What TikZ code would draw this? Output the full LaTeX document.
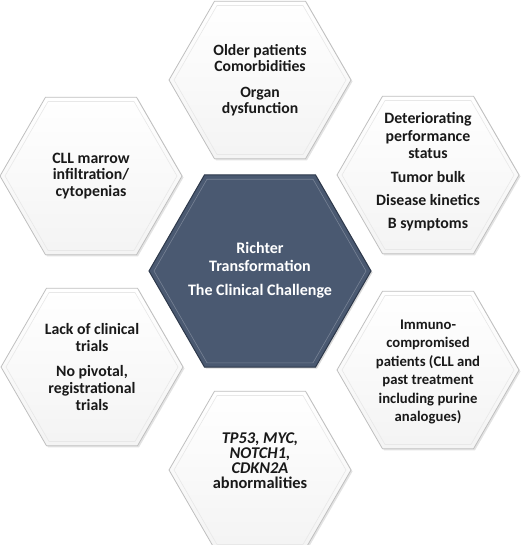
\documentclass[tikz,border=0pt]{standalone}
\usepackage{fontspec}
\setmainfont{Carlito}
\usetikzlibrary{shapes.geometric,shadows}
\definecolor{slate}{RGB}{74,89,113}
\definecolor{slateedge}{RGB}{45,56,74}
\begin{document}
\begin{tikzpicture}[x=1pt,y=-1pt,
  outerhex/.style={regular polygon, regular polygon sides=6, minimum size=182pt, inner sep=0pt,
    draw=gray!50, line width=0.8pt, top color=white, bottom color=gray!9,
    drop shadow={shadow xshift=1.5pt, shadow yshift=-1.5pt, opacity=0.22}},
  bevelhex/.style={regular polygon, regular polygon sides=6, minimum size=172pt, inner sep=0pt,
    draw=gray!18, line width=0.6pt},
  centerhex/.style={regular polygon, regular polygon sides=6, minimum size=222pt, inner sep=0pt,
    fill=slate, draw=slateedge, line width=1pt,
    drop shadow={shadow xshift=1.5pt, shadow yshift=-1.5pt, opacity=0.3}},
  centerbevel/.style={regular polygon, regular polygon sides=6, minimum size=212pt, inner sep=0pt,
    draw=slate!75!white, line width=0.6pt},
  txt/.style={align=center, font=\fontsize{15.8}{16.5}\selectfont\bfseries, text=black!90},
  ctxt/.style={align=center, font=\fontsize{16}{18.5}\selectfont\bfseries, text=white}]
\useasboundingbox (0,0) rectangle (520,545);

% hexagons
\node[outerhex] (htop) at (260,80) {};
\node[bevelhex] (btop) at (260,80) {};
\node[outerhex] (hul) at (91,176) {};
\node[bevelhex] (bul) at (91,176) {};
\node[outerhex] (hur) at (428,175) {};
\node[bevelhex] (bur) at (428,175) {};
\node[outerhex] (hll) at (92,367) {};
\node[bevelhex] (bll) at (92,367) {};
\node[outerhex] (hlr) at (428,370) {};
\node[bevelhex] (blr) at (428,370) {};
\node[outerhex] (hbot) at (260,470) {};
\node[bevelhex] (bbot) at (260,470) {};
\node[centerhex] (hc) at (260,271) {};
\node[centerbevel] (bc) at (260,271) {};

% texts
\node[txt, font=\fontsize{15.7}{16}\selectfont\bfseries] (ttop) at (260,80) {Older patients\\Comorbidities\\[10pt]Organ\\dysfunction};
\node[txt] (tul) at (91,176) {CLL marrow\\infiltration/\\cytopenias};
\node[txt, font=\fontsize{15.8}{17.5}\selectfont\bfseries] (tur) at (428,172) {Deteriorating\\performance\\status\\[6.5pt]Tumor bulk\\[5.5pt]Disease kinetics\\[5.5pt]B symptoms};
\node[txt, font=\fontsize{15.8}{17}\selectfont\bfseries] (tll) at (92,367) {Lack of clinical\\trials\\[8pt]No pivotal,\\registrational\\trials};
\node[txt, font=\fontsize{14.7}{18.5}\selectfont\bfseries] (tlr) at (428,372) {Immuno-\\compromised\\patients (CLL and\\past treatment\\including purine\\analogues)};
\node[txt, font=\fontsize{16.4}{15}\selectfont\bfseries] (tbot) at (260,461) {\itshape TP53, MYC,\\\itshape NOTCH1,\\\itshape CDKN2A\\abnormalities};
\node[ctxt] (tc) at (260,270) {Richter\\Transformation\\[5pt]The Clinical Challenge};
\end{tikzpicture}
\end{document}
